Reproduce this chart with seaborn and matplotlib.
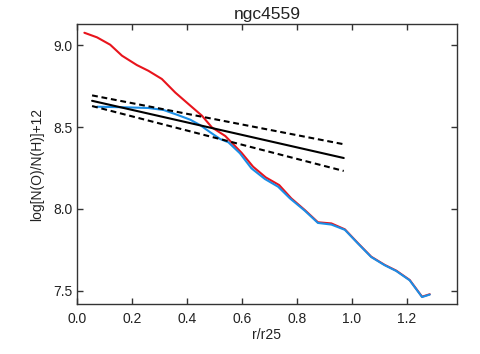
import matplotlib
matplotlib.use('Agg')
import matplotlib.pyplot as plt
import seaborn as sns
import pandas as pd

red_r = [0.027, 0.073, 0.121, 0.164, 0.218, 0.26, 0.309, 0.358, 0.406, 0.455,
         0.491, 0.54, 0.599, 0.641, 0.687, 0.736, 0.78, 0.829, 0.877, 0.926,
         0.975, 1.023, 1.071, 1.12, 1.162, 1.211, 1.256, 1.284]
red_oh = [9.075, 9.047, 9.002, 8.935, 8.878, 8.843, 8.793, 8.71, 8.64, 8.569,
          8.498, 8.445, 8.343, 8.258, 8.193, 8.146, 8.065, 7.994, 7.919, 7.912,
          7.876, 7.791, 7.709, 7.659, 7.624, 7.567, 7.465, 7.48]

blue_r = [0.073, 0.182, 0.26, 0.315, 0.364, 0.412, 0.448, 0.485, 0.521, 0.551,
          0.593, 0.635, 0.684, 0.732, 0.775, 0.829, 0.877, 0.926, 0.975, 1.023,
          1.071, 1.12, 1.162, 1.211, 1.256, 1.284]
blue_oh = [8.624, 8.62, 8.616, 8.604, 8.575, 8.545, 8.512, 8.468, 8.427, 8.407,
           8.34, 8.248, 8.183, 8.136, 8.065, 7.99, 7.915, 7.905, 7.873, 7.789,
           7.707, 7.657, 7.622, 7.565, 7.463, 7.478]

# linear fit and its two error lines
fit_r = [0.055, 0.971]
fit_oh = [8.66, 8.311]
fit_hi = [8.693, 8.395]
fit_lo = [8.628, 8.232]

xticks = [0.0, 0.2, 0.4, 0.6, 0.8, 1.0, 1.2]
yticks = [7.5, 8.0, 8.5, 9.0]

sns.set_style('ticks')
plt.rcParams['font.family'] = ['Liberation Sans', 'DejaVu Sans']

red = pd.DataFrame({'r': red_r, 'oh': red_oh})
blue = pd.DataFrame({'r': blue_r, 'oh': blue_oh})
fit = pd.DataFrame({'r': fit_r, 'oh': fit_oh, 'hi': fit_hi, 'lo': fit_lo})

fig = plt.figure(figsize=(4.81, 3.54), dpi=100)
ax = fig.add_axes([0.160, 0.141, 0.790, 0.791])

sns.lineplot(data=red, x='r', y='oh', color='#e8141c', linewidth=1.5, ax=ax, sort=False)
sns.lineplot(data=blue, x='r', y='oh', color='#1a8ee6', linewidth=1.5, ax=ax, sort=False)
sns.lineplot(data=fit, x='r', y='oh', color='black', linewidth=1.5, ax=ax)
sns.lineplot(data=fit, x='r', y='hi', color='black', linewidth=1.5, ax=ax)
sns.lineplot(data=fit, x='r', y='lo', color='black', linewidth=1.5, ax=ax)
ax.lines[3].set_dashes((2.8, 1.8))
ax.lines[4].set_dashes((2.8, 1.8))

ax.set_xlim(0.0, 1.383)
ax.set_ylim(7.42, 9.128)
ax.set_xticks(xticks)
ax.set_xticklabels(['%.1f' % t for t in xticks])
ax.set_yticks(yticks)
ax.set_yticklabels(['%.1f' % t for t in yticks])
ax.tick_params(direction='in', length=4.5, width=1, top=True, right=True,
               labelsize=10, colors='#333333', labelcolor='#222222')
ax.tick_params(axis='x', pad=6)
ax.tick_params(axis='y', pad=3)
for s in ax.spines.values():
    s.set_linewidth(1)
    s.set_color('#333333')

ax.set_xlabel('r/r25', fontsize=10, labelpad=1, color='#222222')
ax.set_ylabel('log[N(O)/N(H)]+12', fontsize=10, labelpad=7, color='#222222')
ax.set_title('ngc4559', fontsize=12.5, pad=4, color='#222222')

fig.savefig('out.png', dpi=100)
